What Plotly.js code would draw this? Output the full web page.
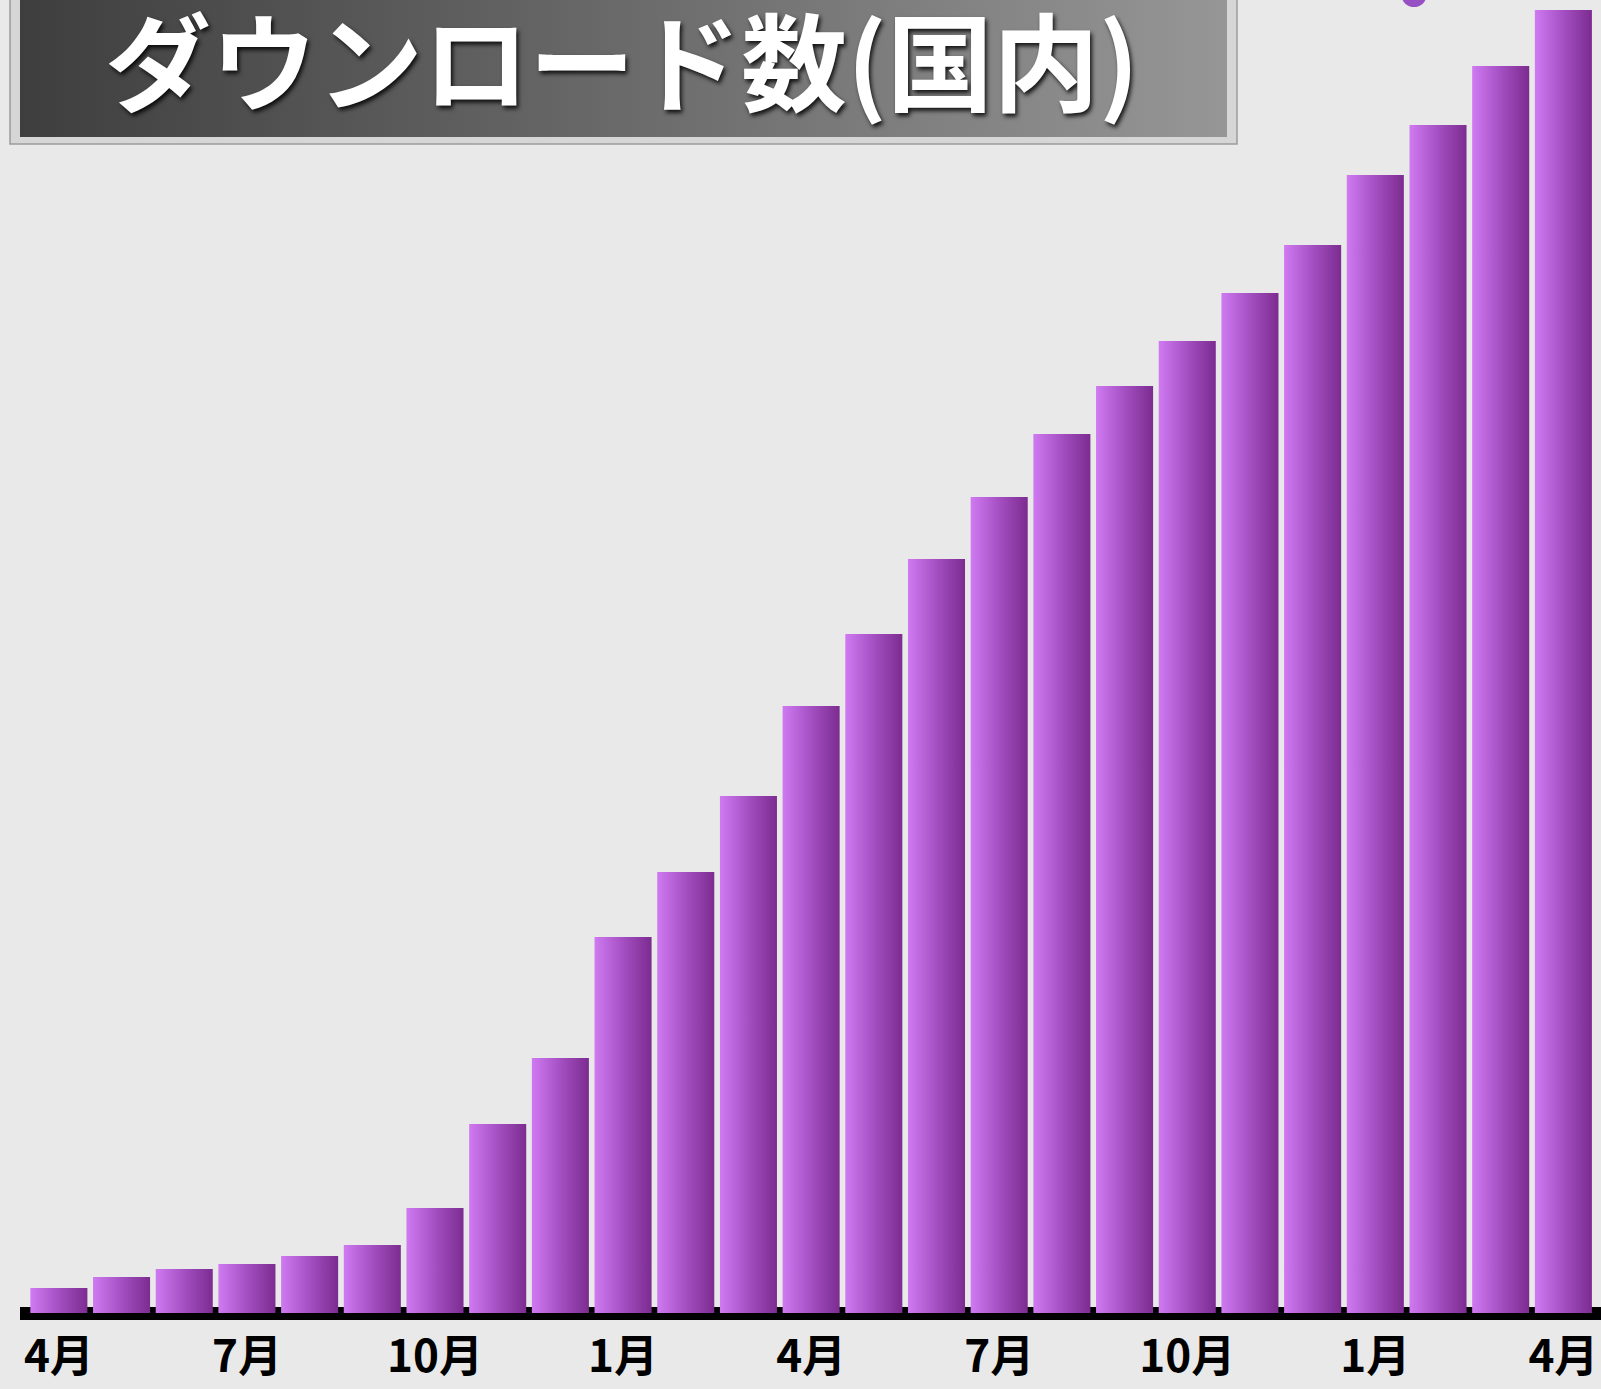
<!DOCTYPE html>
<html>
<head>
<meta charset="utf-8">
<script src="https://cdn.plot.ly/plotly-3.0.1.min.js"></script>
<style>
  html, body { margin: 0; padding: 0; background: #e8e9e8; }
  #chart { width: 1601px; height: 1389px; }
</style>
</head>
<body>
<div id="chart"></div>
<script>
// Month of each bar (April of year 1 through April of year 3)
const months = ['4月','5月','6月','7月','8月','9月','10月','11月','12月','1月','2月','3月',
                '4月','5月','6月','7月','8月','9月','10月','11月','12月','1月','2月','3月','4月'];
// Cumulative downloads (relative units)
const downloads = [25, 36, 44, 49, 57, 68, 105, 189, 255, 376, 441, 517, 607,
                   679, 754, 816, 879, 927, 972, 1020, 1068, 1138, 1188, 1247, 1303];
// Tick positions (bar index) and their labels
const tickIndex = [0, 3, 6, 9, 12, 15, 18, 21, 24];
const tickLabels = ['4月','7月','10月','1月','4月','7月','10月','1月','4月'];
const titleText = 'ダウンロード数(国内)';

const W = 1601, H = 1389;
const L = 20, R = 0, T = 0, B = 67;
const plotW = W - L - R, plotH = H - T - B;
const px = x => (x - L) / plotW;          // pixel -> paper x
const py = y => (T + plotH - y) / plotH;  // pixel -> paper y

const xIdx = months.map((m, i) => i);

const trace = {
  type: 'bar',
  x: xIdx,
  y: downloads,
  marker: { color: '#a650c4', line: { width: 0 } },
  width: 0.91,
  hoverinfo: 'skip'
};

const layout = {
  width: W, height: H,
  margin: { l: L, r: R, t: T, b: B, pad: 0 },
  paper_bgcolor: '#e8e9e8',
  plot_bgcolor: 'rgba(0,0,0,0)',
  showlegend: false,
  xaxis: {
    range: [-0.62, 24.6],
    tickmode: 'array',
    tickvals: tickIndex,
    ticktext: tickLabels,
    ticks: '',
    showgrid: false, zeroline: false, showline: false,
    ticklabelstandoff: 5,
    tickfont: { family: '"Noto Sans CJK JP", "Noto Sans", sans-serif', size: 44, color: '#000', weight: 'bold' }
  },
  yaxis: {
    range: [-9, 1313],
    showgrid: false, zeroline: false, showline: false, showticklabels: false, ticks: ''
  },
  shapes: [
    // baseline bar
    { type: 'rect', layer: 'below', xref: 'paper', yref: 'y', x0: 0, x1: 1, y0: -7, y1: 6,
      fillcolor: '#000', line: { width: 0 } },
    // title box frame
    { type: 'rect', layer: 'above', xref: 'paper', yref: 'paper',
      x0: px(10), x1: px(1237), y0: py(144), y1: py(-10),
      fillcolor: '#d6d6d6', line: { color: '#9c9c9c', width: 1.5 } },
    // title box inner (gradient applied after render)
    { type: 'rect', layer: 'above', xref: 'paper', yref: 'paper',
      x0: px(20), x1: px(1227), y0: py(137), y1: py(-10),
      fillcolor: '#666', line: { width: 0 } },
    // partial purple mark at top edge
    { type: 'circle', layer: 'above', xref: 'paper', yref: 'paper',
      x0: px(1402), x1: px(1426), y0: py(7), y1: py(-14),
      fillcolor: '#9650c4', line: { width: 0 } }
  ],
  annotations: [{
    xref: 'paper', yref: 'paper', x: px(622), y: py(57),
    xanchor: 'center', yanchor: 'middle', showarrow: false,
    text: titleText,
    font: { family: '"Noto Sans CJK JP", sans-serif', size: 106, color: '#ffffff', weight: 'bold',
            shadow: '2px 3px 4px rgba(0,0,0,0.85)' }
  }]
};

const gd = document.getElementById('chart');
Plotly.newPlot(gd, [trace], layout, { staticPlot: true, displayModeBar: false }).then(() => {
  const NS = 'http://www.w3.org/2000/svg';
  const defs = gd.querySelector('.main-svg defs');
  function grad(id, stops) {
    const g = document.createElementNS(NS, 'linearGradient');
    g.setAttribute('id', id);
    g.setAttribute('x1', '0'); g.setAttribute('y1', '0');
    g.setAttribute('x2', '1'); g.setAttribute('y2', '0');
    stops.forEach(([o, c]) => {
      const s = document.createElementNS(NS, 'stop');
      s.setAttribute('offset', o);
      s.setAttribute('stop-color', c);
      g.appendChild(s);
    });
    defs.appendChild(g);
  }
  grad('barGrad', [[0, '#d07af2'], [0.5, '#a44fc2'], [1, '#7c2c90']]);
  grad('boxGrad', [[0, '#3e3e3e'], [1, '#969696']]);
  gd.querySelectorAll('.trace.bars .point path').forEach(p => {
    p.style.fill = 'url(#barGrad)';
  });
  const shapePaths = gd.querySelectorAll('.layer-above .shapelayer path');
  if (shapePaths[1]) shapePaths[1].style.fill = 'url(#boxGrad)';
});
</script>
</body>
</html>
